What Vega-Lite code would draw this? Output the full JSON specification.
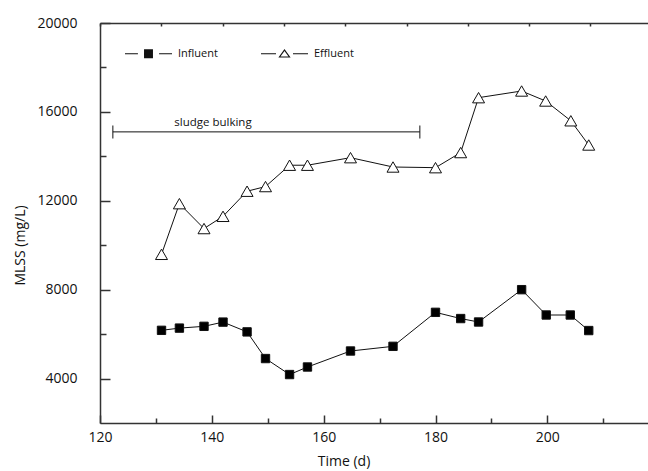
{
  "$schema": "https://vega.github.io/schema/vega-lite/v6.json",
  "width": 548,
  "height": 400,
  "autosize": {"type": "none"},
  "padding": {"left": 100, "top": 23, "right": 0, "bottom": 48},
  "background": "white",
  "config": {
    "view": {"stroke": null},
    "font": "Open Sans",
    "axis": {
      "grid": false,
      "labelFont": "Open Sans",
      "titleFont": "Open Sans",
      "labelFontSize": 14,
      "titleFontSize": 14,
      "titleFontWeight": "normal",
      "labelColor": "#111",
      "titleColor": "#111",
      "domainColor": "#333",
      "tickColor": "#333",
      "domainWidth": 1.5,
      "tickWidth": 1.5
    },
    "legend": {"labelFont": "Open Sans", "labelFontSize": 11, "labelColor": "#111"}
  },
  "datasets": {
    "main": [
      {"day": 131.0, "mlss": 6170, "series": "Influent"},
      {"day": 134.2, "mlss": 6270, "series": "Influent"},
      {"day": 138.6, "mlss": 6350, "series": "Influent"},
      {"day": 142.0, "mlss": 6540, "series": "Influent"},
      {"day": 146.3, "mlss": 6100, "series": "Influent"},
      {"day": 149.6, "mlss": 4900, "series": "Influent"},
      {"day": 153.9, "mlss": 4180, "series": "Influent"},
      {"day": 157.1, "mlss": 4520, "series": "Influent"},
      {"day": 164.8, "mlss": 5240, "series": "Influent"},
      {"day": 172.4, "mlss": 5450, "series": "Influent"},
      {"day": 180.0, "mlss": 6980, "series": "Influent"},
      {"day": 184.5, "mlss": 6700, "series": "Influent"},
      {"day": 187.7, "mlss": 6545, "series": "Influent"},
      {"day": 195.4, "mlss": 8000, "series": "Influent"},
      {"day": 199.8, "mlss": 6860, "series": "Influent"},
      {"day": 204.1, "mlss": 6860, "series": "Influent"},
      {"day": 207.4, "mlss": 6160, "series": "Influent"},
      {"day": 131.0, "mlss": 9590, "series": "Effluent"},
      {"day": 134.2, "mlss": 11870, "series": "Effluent"},
      {"day": 138.6, "mlss": 10750, "series": "Effluent"},
      {"day": 142.0, "mlss": 11300, "series": "Effluent"},
      {"day": 146.3, "mlss": 12430, "series": "Effluent"},
      {"day": 149.6, "mlss": 12640, "series": "Effluent"},
      {"day": 153.9, "mlss": 13600, "series": "Effluent"},
      {"day": 157.1, "mlss": 13600, "series": "Effluent"},
      {"day": 164.8, "mlss": 13940, "series": "Effluent"},
      {"day": 172.4, "mlss": 13520, "series": "Effluent"},
      {"day": 180.0, "mlss": 13490, "series": "Effluent"},
      {"day": 184.5, "mlss": 14170, "series": "Effluent"},
      {"day": 187.7, "mlss": 16640, "series": "Effluent"},
      {"day": 195.4, "mlss": 16940, "series": "Effluent"},
      {"day": 199.7, "mlss": 16490, "series": "Effluent"},
      {"day": 204.2, "mlss": 15600, "series": "Effluent"},
      {"day": 207.4, "mlss": 14510, "series": "Effluent"}
    ],
    "bulking": [
      {"start": 122.3, "end": 177.2, "mlss": 15100, "labelDay": 140.2, "labelMlss": 15370, "label": "sludge bulking"}
    ]
  },
  "resolve": {"axis": {"x": "independent", "y": "independent"}},
  "layer": [
    {
      "data": {"name": "main"},
      "mark": {"type": "line", "color": "#111", "strokeWidth": 1},
      "encoding": {
        "x": {
          "field": "day", "type": "quantitative",
          "scale": {"domain": [120, 218], "nice": false, "zero": false},
          "axis": {"orient": "bottom", "values": [120, 140, 160, 180, 200], "tickSize": -8, "labelPadding": 15, "title": "Time (d)", "titleX": 243.5, "titleY": 38, "titleBaseline": "middle", "titleAlign": "center", "labelFlush": false}
        },
        "y": {
          "field": "mlss", "type": "quantitative",
          "scale": {"domain": [2000, 20000], "nice": false, "zero": false},
          "axis": {"orient": "left", "values": [4000, 8000, 12000, 16000, 20000], "format": "d", "tickSize": -10, "labelPadding": 33, "title": "MLSS (mg/L)", "titleX": -80, "titleY": 222, "titleAngle": -90, "titleBaseline": "middle", "titleAlign": "center", "labelFlush": false}
        },
        "detail": {"field": "series"}
      }
    },
    {
      "data": {"name": "main"},
      "mark": {"type": "point", "filled": true, "stroke": "#111", "strokeWidth": 1, "opacity": 1},
      "encoding": {
        "x": {"field": "day", "type": "quantitative", "axis": null},
        "y": {"field": "mlss", "type": "quantitative", "axis": null},
        "shape": {"condition": {"test": "datum.series === 'Influent'", "value": "square"}, "value": "triangle-up"},
        "size": {"condition": {"test": "datum.series === 'Influent'", "value": 70}, "value": 144},
        "fill": {"condition": {"test": "datum.series === 'Influent'", "value": "#000000"}, "value": "#ffffff"}
      }
    },
    {
      "data": {"name": "main"},
      "mark": {"type": "point", "filled": true, "color": "#111", "opacity": 0},
      "encoding": {
        "x": {"field": "day", "type": "quantitative", "axis": null},
        "y": {"field": "mlss", "type": "quantitative", "axis": null},
        "shape": {
          "field": "series", "type": "nominal",
          "scale": {"domain": ["Influent", "Effluent"], "range": [
            "M-1,-0.022L-0.45,-0.022L-0.45,0.022L-1,0.022ZM0.45,-0.022L1,-0.022L1,0.022L0.45,0.022ZM-0.19,-0.19L0.19,-0.19L0.19,0.19L-0.19,0.19Z",
            "M-1,-0.022L-0.36,-0.022L-0.36,0.022L-1,0.022ZM0.36,-0.022L1,-0.022L1,0.022L0.36,0.022ZM0,-0.2L0.26,0.16L-0.26,0.16ZM0,-0.12L-0.17,0.115L0.17,0.115Z"
          ]},
          "legend": {
            "title": null, "orient": "none", "direction": "horizontal",
            "legendX": 25, "legendY": 7, "padding": 0,
            "symbolSize": 2209, "symbolStrokeWidth": 0, "symbolOpacity": 1,
            "labelOffset": 6, "columnPadding": 43
          }
        }
      }
    },
    {
      "data": {"name": "bulking"},
      "mark": {"type": "rule", "color": "#111", "strokeWidth": 1},
      "encoding": {
        "x": {"field": "start", "type": "quantitative", "axis": null},
        "x2": {"field": "end"},
        "y": {"field": "mlss", "type": "quantitative", "axis": null}
      }
    },
    {
      "data": {"name": "bulking"},
      "mark": {"type": "tick", "orient": "vertical", "size": 13, "thickness": 1, "color": "#111", "opacity": 1},
      "encoding": {
        "x": {"field": "start", "type": "quantitative", "axis": null},
        "y": {"field": "mlss", "type": "quantitative", "axis": null}
      }
    },
    {
      "data": {"name": "bulking"},
      "mark": {"type": "tick", "orient": "vertical", "size": 13, "thickness": 1, "color": "#111", "opacity": 1},
      "encoding": {
        "x": {"field": "end", "type": "quantitative", "axis": null},
        "y": {"field": "mlss", "type": "quantitative", "axis": null}
      }
    },
    {
      "data": {"name": "bulking"},
      "mark": {"type": "text", "font": "Open Sans", "fontSize": 11.5, "color": "#111", "align": "center", "baseline": "alphabetic"},
      "encoding": {
        "x": {"field": "labelDay", "type": "quantitative", "axis": null},
        "y": {"field": "labelMlss", "type": "quantitative", "axis": null},
        "text": {"field": "label"}
      }
    },
    {
      "data": {"name": "main"},
      "mark": {"type": "point", "opacity": 0},
      "encoding": {
        "x": {"field": "day", "type": "quantitative", "axis": {"orient": "bottom", "values": [130, 150, 170, 190, 210], "tickSize": -5, "labels": false, "domain": false, "title": null}},
        "y": {"field": "mlss", "type": "quantitative", "axis": {"orient": "left", "values": [6000, 10000, 14000, 18000], "tickSize": -6, "labels": false, "domain": false, "title": null}}
      }
    },
    {
      "data": {"name": "main"},
      "mark": {"type": "point", "opacity": 0},
      "encoding": {
        "x": {"field": "day", "type": "quantitative", "axis": {"orient": "top", "values": [120, 130.96, 141.93, 152.89, 163.86, 174.82, 185.79, 196.75, 207.71], "tickSize": -3, "labels": false, "domain": true, "title": null}},
        "y": {"field": "mlss", "type": "quantitative", "axis": null}
      }
    }
  ]
}
